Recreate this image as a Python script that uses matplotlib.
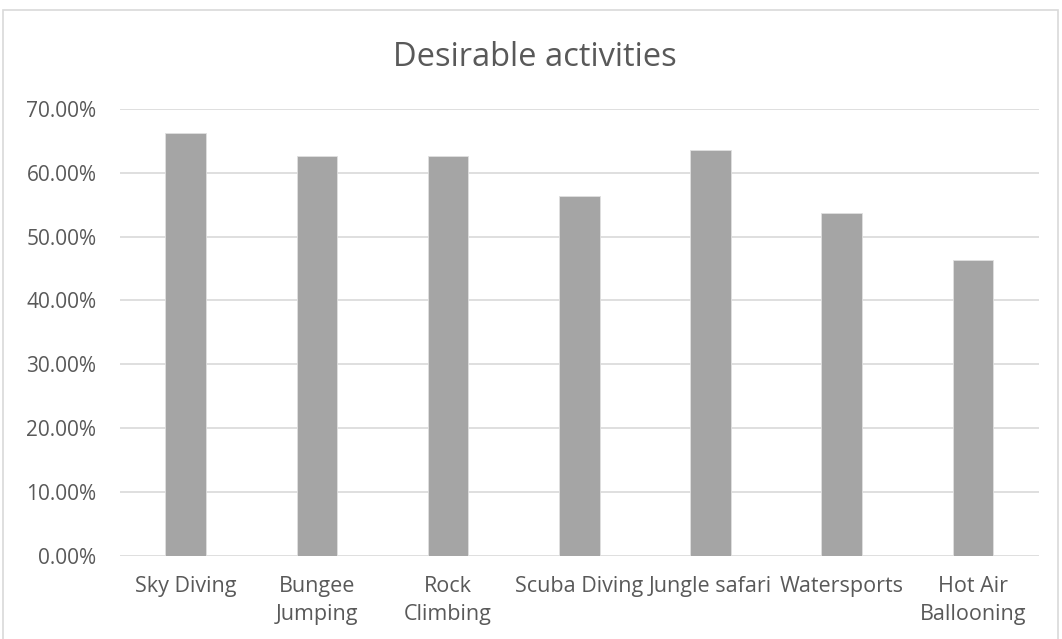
import matplotlib.pyplot as plt
from matplotlib.patches import Rectangle
from matplotlib.ticker import FuncFormatter

plt.rcParams['font.family'] = ['Open Sans', 'DejaVu Sans']

activities = ["Sky Diving", "Bungee\nJumping", "Rock\nClimbing", "Scuba Diving",
              "Jungle safari", "Watersports", "Hot Air\nBallooning"]
shares = [0.663, 0.627, 0.627, 0.564, 0.636, 0.537, 0.463]

text_col = "#595959"
grid_col = "#D9D9D9"

fig = plt.figure(figsize=(10.62, 6.39), dpi=100)
ax = fig.add_axes([0.113, 0.1305, 0.865, 0.699])

x = range(len(activities))
ax.bar(x, shares, width=0.31, color="#A5A5A5", edgecolor="#E0E0E0", linewidth=0.6, zorder=3)

ax.set_ylim(0, 0.7)
ax.set_xlim(-0.5, len(activities) - 0.5)
ax.set_yticks([i / 10 for i in range(8)])
ax.yaxis.set_major_formatter(FuncFormatter(lambda v, p: "{:.2f}%".format(v * 100)))
ax.set_xticks(list(x))
ax.set_xticklabels(activities, linespacing=1.4)

ax.grid(axis="y", color=grid_col, linewidth=1.2, zorder=0)
for s in ["top", "right", "left", "bottom"]:
    ax.spines[s].set_visible(False)
ax.tick_params(length=0, colors=text_col)
ax.tick_params(axis="y", pad=17, labelsize=15)
ax.tick_params(axis="x", pad=15, labelsize=15.5)

fig.text(0.504, 1 - 66 / 639, "Desirable activities", ha="center", va="baseline",
         fontsize=23.5, color=text_col)

# chart border (bottom edge runs off the image)
fig.patches.append(Rectangle((3 / 1062, -0.05), 1055 / 1062, 1.05 - 10 / 639,
                             transform=fig.transFigure, fill=False,
                             edgecolor=grid_col, linewidth=1.2))

fig.savefig("out.png", dpi=100)
